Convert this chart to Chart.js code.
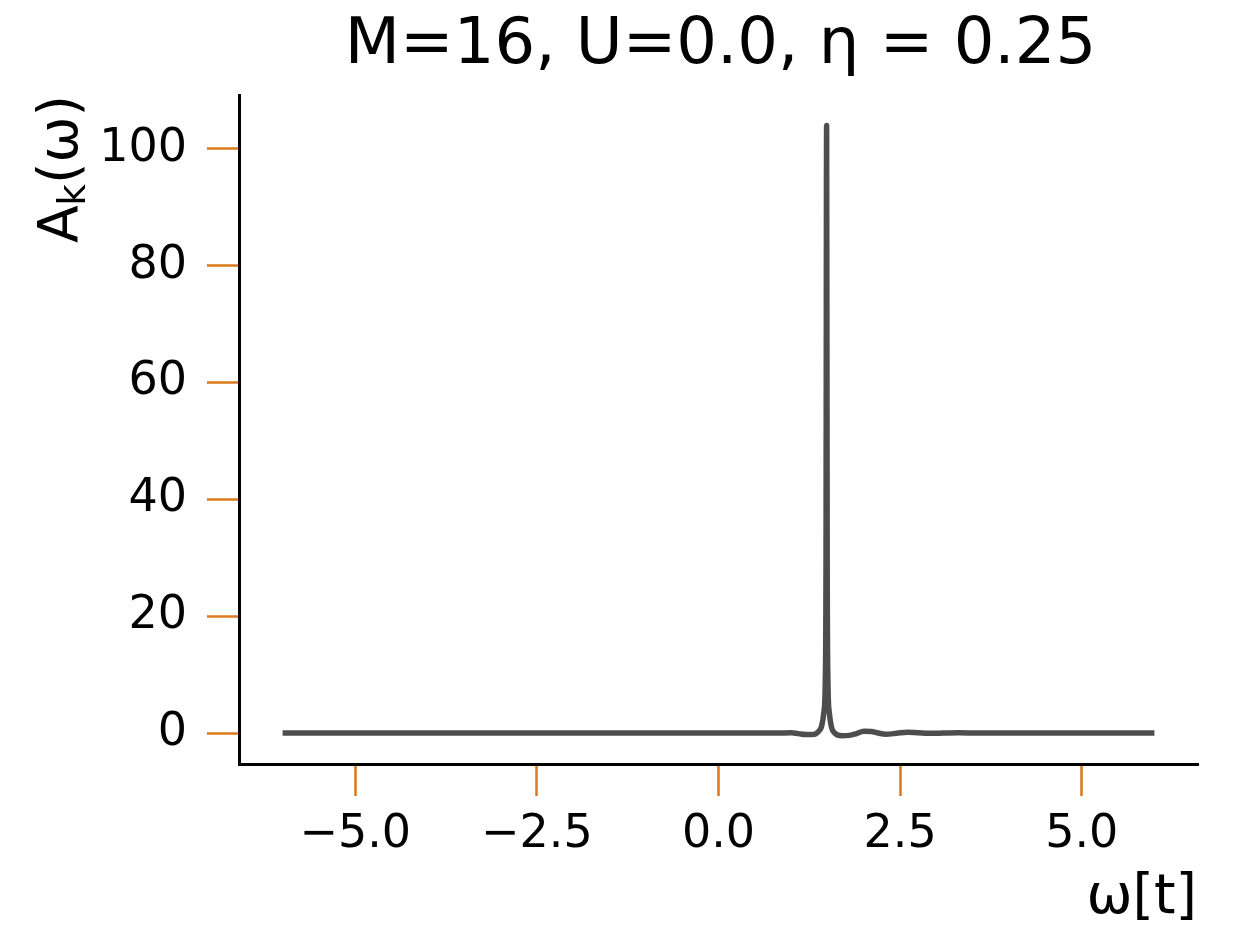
<!DOCTYPE html>
<html>
<head>
<meta charset="utf-8">
<script src="https://cdn.jsdelivr.net/npm/chart.js@4"></script>
<style>
    body { margin: 0; background: #fff; }
    #wrap { width: 1260px; height: 944px; }
</style>
</head>
<body>
<div id="wrap"><canvas id="spectrumChart" width="1260" height="944"></canvas></div>
<script>
// spectral function A_k(omega)
const omega = [-6, -4, -2, 0, 0.8, 1.0, 1.1, 1.2, 1.3, 1.38, 1.42, 1.45, 1.47, 1.48, 1.488, 1.496, 1.506,
    1.525, 1.555, 1.6, 1.7, 1.8, 1.9, 2.0, 2.1, 2.2, 2.3, 2.45, 2.6, 2.75, 2.9, 3.1, 3.3, 3.6, 4.0, 5.0, 6.0];
const spectrum = [0, 0, 0, 0, 0, 0.05, -0.1, -0.25, -0.25, 0.3, 1.2, 3.5, 9, 30, 104, 30, 9,
    3.5, 1.0, 0.0, -0.45, -0.4, -0.1, 0.3, 0.25, 0, -0.2, -0.05, 0.15, 0.05, -0.05, 0, 0.05, 0, 0, 0, 0];

const xTicks = [-5, -2.5, 0, 2.5, 5];
const xTickLabels = ['\u22125.0', '\u22122.5', '0.0', '2.5', '5.0'];
const yTicks = [0, 20, 40, 60, 80, 100];
const yTickLabels = ['0', '20', '40', '60', '80', '100'];

const titleText = 'M=16, U=0.0, \u03b7 = 0.25';
const xLabel = '\u03c9[t]';

const FONT = '"DejaVu Sans", sans-serif';
const TICK_ORANGE = '#dd791b';

document.addEventListener('DOMContentLoaded', function () {
    const ctx = document.getElementById('spectrumChart').getContext('2d');

    const labelsPlugin = {
        id: 'labels',
        afterDraw(chart) {
            const c = chart.ctx;
            const area = chart.chartArea;
            c.save();
            c.fillStyle = '#000';

            // title
            c.font = '64px ' + FONT;
            c.textAlign = 'center';
            c.textBaseline = 'alphabetic';
            c.fillText(titleText, (area.left + area.right) / 2 + 2, 63);

            // x label
            c.font = '55px ' + FONT;
            c.textAlign = 'right';
            c.fillText(xLabel, area.right - 1, 913);

            // y label A_k(omega), rotated
            c.translate(77, 243);
            c.rotate(-Math.PI / 2);
            c.textAlign = 'left';
            c.font = '55px ' + FONT;
            c.fillText('A', 0, 0);
            let pos = c.measureText('A').width;
            c.font = '37px ' + FONT;
            c.fillText('k', pos, 8);
            pos += c.measureText('k').width;
            c.font = '55px ' + FONT;
            c.fillText('(\u03c9)', pos, 0);
            c.restore();
        }
    };

    const data = {
        datasets: [{
            data: omega.map((w, i) => ({ x: w, y: spectrum[i] })),
            borderColor: '#4d4d4d',
            borderWidth: 5.5,
            pointRadius: 0,
            borderJoinStyle: 'round',
            cubicInterpolationMode: 'monotone',
            fill: false
        }]
    };

    const config = {
        type: 'line',
        data: data,
        plugins: [labelsPlugin],
        options: {
            responsive: false,
            animation: false,
            layout: { padding: { top: 95, right: 62, left: 0, bottom: 0 } },
            plugins: {
                legend: { display: false },
                tooltip: { enabled: false },
                title: { display: false }
            },
            scales: {
                x: {
                    type: 'linear',
                    min: -6.6,
                    max: 6.6,
                    afterFit: s => { s.height = 180; },
                    afterBuildTicks: s => { s.ticks = xTicks.map(v => ({ value: v })); },
                    grid: {
                        drawOnChartArea: false,
                        drawTicks: true,
                        tickLength: 32,
                        tickWidth: 2.5,
                        tickColor: TICK_ORANGE
                    },
                    border: { display: true, color: '#000', width: 3 },
                    ticks: {
                        color: '#000',
                        font: { family: FONT, size: 46 },
                        padding: 11,
                        maxRotation: 0,
                        autoSkip: false,
                        callback: (v, i) => xTickLabels[i]
                    }
                },
                y: {
                    type: 'linear',
                    min: -5.3,
                    max: 109.2,
                    afterFit: s => { s.width = 239; },
                    afterBuildTicks: s => { s.ticks = yTicks.map(v => ({ value: v })); },
                    grid: {
                        drawOnChartArea: false,
                        drawTicks: true,
                        tickLength: 32,
                        tickWidth: 2.5,
                        tickColor: TICK_ORANGE
                    },
                    border: { display: true, color: '#000', width: 3 },
                    ticks: {
                        color: '#000',
                        font: { family: FONT, size: 46 },
                        padding: 20,
                        autoSkip: false,
                        callback: (v, i) => yTickLabels[i]
                    }
                }
            }
        }
    };

    const spectrumChart = new Chart(ctx, config);
});
</script>
</body>
</html>
